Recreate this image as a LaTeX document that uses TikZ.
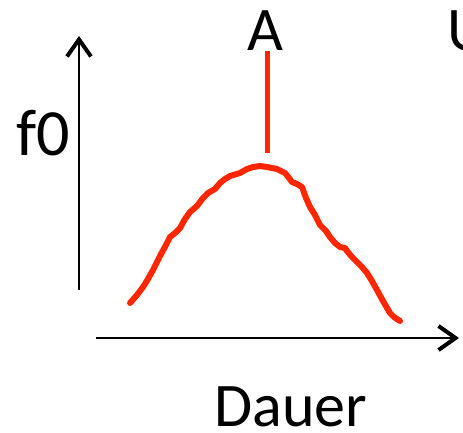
\documentclass[tikz,border=0pt]{standalone}
\usepackage{fontspec}
\setmainfont{Carlito}
\usepackage{tikz}
\usetikzlibrary{arrows.meta, positioning}
\definecolor{pen}{RGB}{255,38,0}

\begin{document}
\begin{tikzpicture}[x=1pt, y=-1pt,
    axis/.style={line width=2pt, -{Straight Barb[length=17pt, width=24pt, line width=4pt]}},
    stroke/.style={pen, line width=6pt, line cap=round, line join=round},
    lbl/.style={font=\fontsize{62}{62}\selectfont, inner sep=0pt, anchor=base}]
  \useasboundingbox (0,0) rectangle (463,432);
  \clip (0,0) rectangle (463,432);

  % axes
  \coordinate (yb) at (79,290);
  \coordinate (yt) at (79,36);
  \coordinate (xl) at (96,338);
  \coordinate (xr) at (459,338);
  \draw[axis] (yb) -- (yt);
  \draw[axis] (xl) -- (xr);

  % labels
  \node[lbl, anchor=base west, font=\fontsize{66}{66}\selectfont] (f0) at (16,155) {f0};
  \node[lbl] (A) at (265,50) {A};
  \node[lbl, anchor=base west] (U) at (447,50) {U};
  \node[lbl] (dauer) at (291,426) {Dauer};

  % accent mark
  \coordinate (mtop) at (267,51);
  \coordinate (mbot) at (267,153);
  \draw[pen, line width=5pt] (mtop) -- (mbot);

  % f0 contour
  \draw[stroke] plot coordinates {
    (130,303) (137,295) (143,287) (148,279) (153,270) (160,256) (166,245)
    (170,237) (175,233) (180,228) (185,219) (190,212) (197,206) (203,198)
    (208,193) (215,189) (220,183) (225,179) (230,176) (240,173) (247,169)
    (253,167) (260,166) (267,167) (277,169) (285,173) (289,178) (292,182)
    (297,184) (302,187) (306,198) (310,207) (315,215) (320,225) (326,231)
    (330,237) (335,243) (340,247) (345,248) (347,251) (352,257) (357,262)
    (362,267) (367,273) (372,281) (377,290) (383,301) (390,313) (394,317)
    (400,321)};
\end{tikzpicture}
\end{document}
